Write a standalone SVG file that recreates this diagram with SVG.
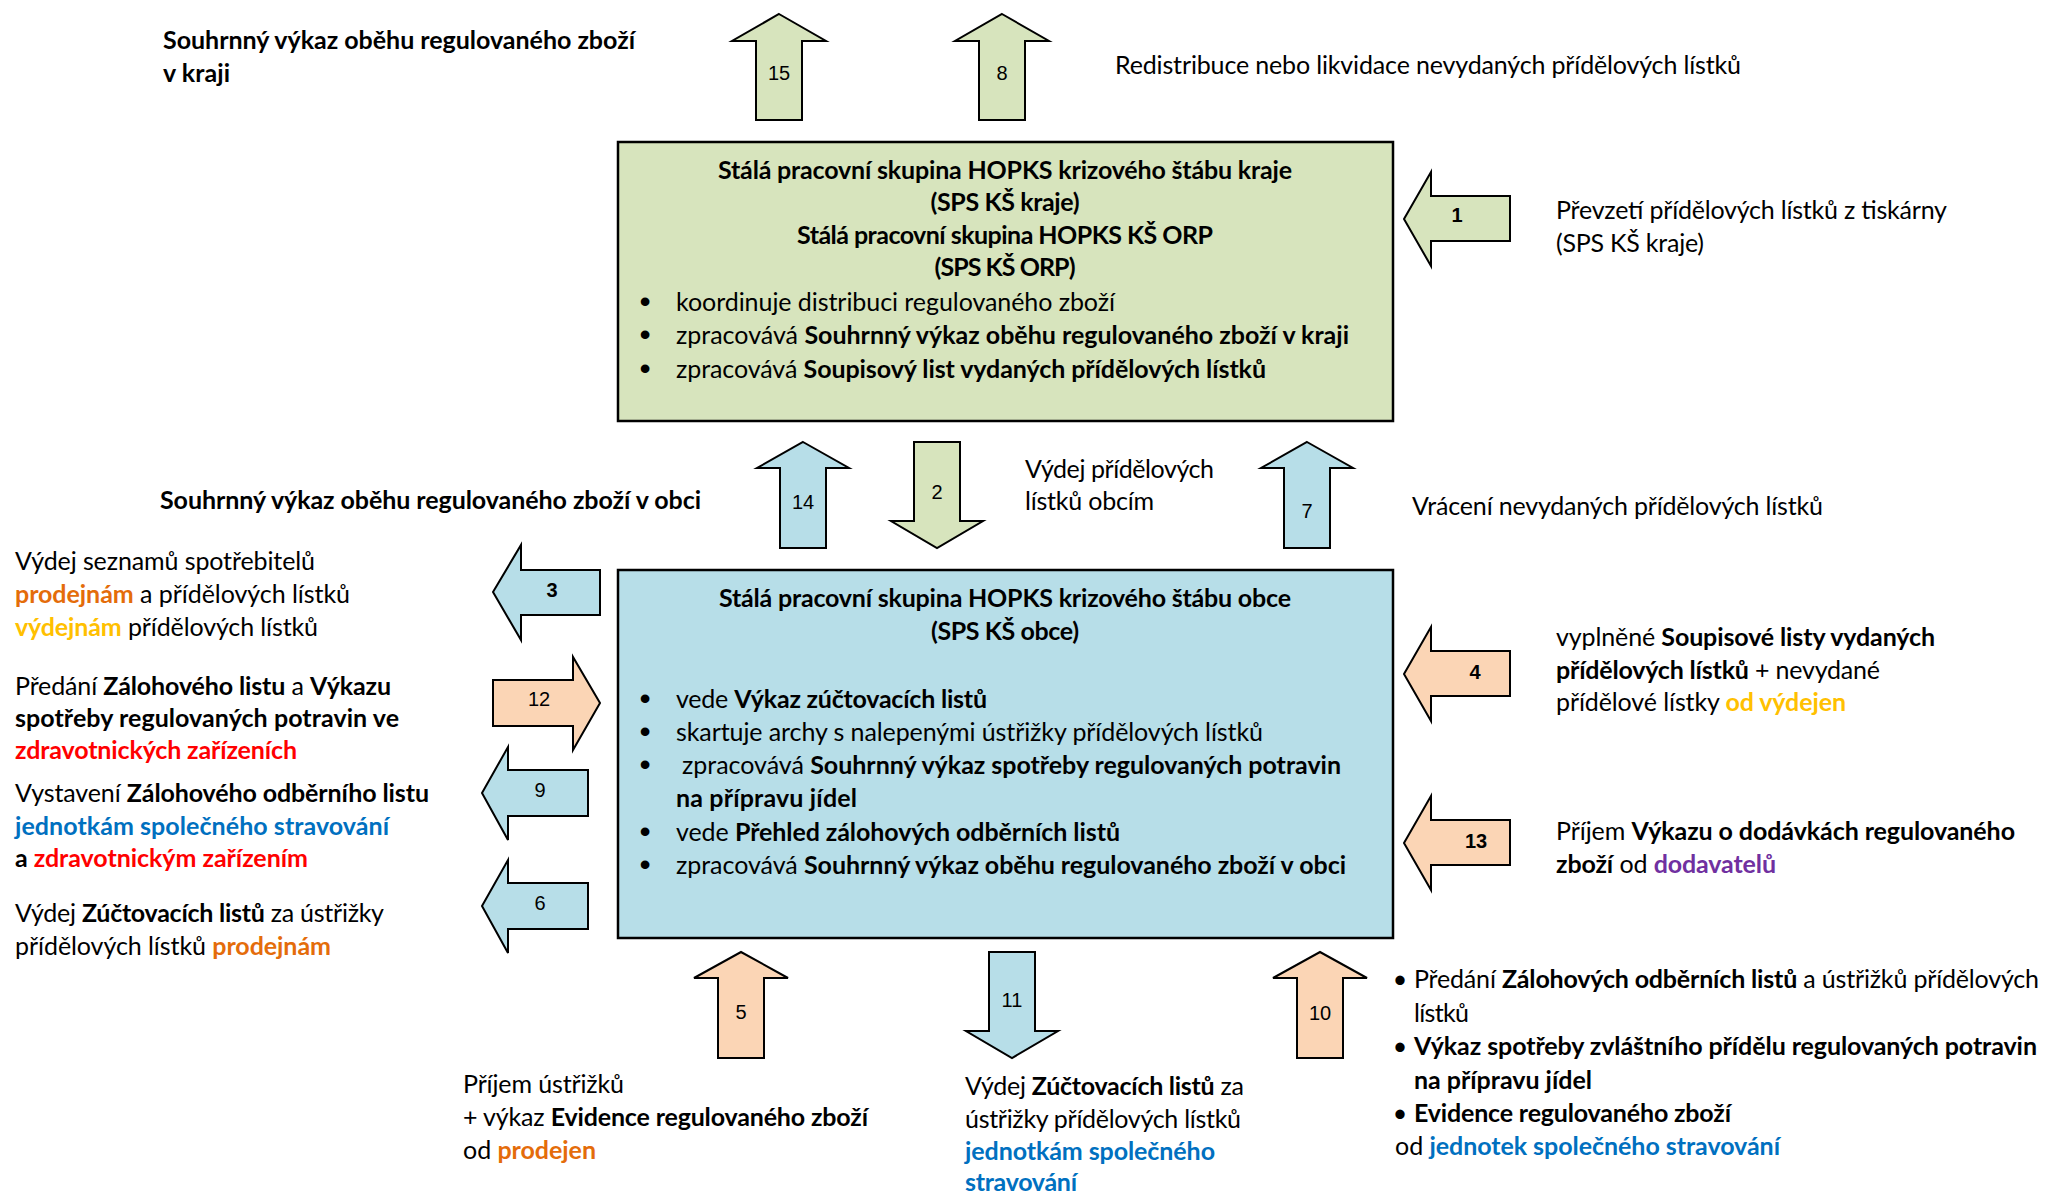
<svg xmlns="http://www.w3.org/2000/svg" width="2045" height="1192" viewBox="0 0 2045 1192">
<style>
.t{font-family:Lato,"Noto Sans",sans-serif;font-size:25px;fill:#000}
.b{font-weight:700}
.c{text-anchor:middle}
.or{fill:#E46C0A}.go{fill:#FFC000}.rd{fill:#FF0000}.bl{fill:#0070C0}.pu{fill:#7030A0}
.n{font-family:"Liberation Sans",Arial,sans-serif;font-size:20px;text-anchor:middle;fill:#000}
.nb{font-weight:700}
.ag{fill:#D7E4BD;stroke:#000;stroke-width:2;stroke-linejoin:miter}
.ab{fill:#B7DEE8;stroke:#000;stroke-width:2;stroke-linejoin:miter}
.ap{fill:#FBD5B5;stroke:#000;stroke-width:2;stroke-linejoin:miter}
.box{stroke:#000;stroke-width:2.5}
.dot{font-family:"Liberation Sans",Arial,sans-serif;font-size:32px;text-anchor:middle}
</style>
<rect width="2045" height="1192" fill="#fff"/>

<g id="kraj">
<rect class="box" x="618" y="142" width="775" height="279" fill="#D7E4BD"/>
<text class="t b c" x="1005" y="179" textLength="574">Stálá pracovní skupina HOPKS krizového štábu kraje</text>
<text class="t b c" x="1005" y="211" textLength="149">(SPS KŠ kraje)</text>
<text class="t b c" x="1005" y="244" textLength="416">Stálá pracovní skupina HOPKS KŠ ORP</text>
<text class="t b c" x="1005" y="276" textLength="141">(SPS KŠ ORP)</text>
<text class="t dot" x="645" y="312">•</text>
<text class="t dot" x="645" y="345">•</text>
<text class="t dot" x="645" y="379">•</text>
<text class="t" x="676" y="311" textLength="439">koordinuje distribuci regulovaného zboží</text>
<text class="t" x="676" y="344" textLength="673">zpracovává <tspan class="b">Souhrnný výkaz oběhu regulovaného zboží v kraji</tspan></text>
<text class="t" x="676" y="378" textLength="590">zpracovává <tspan class="b">Soupisový list vydaných přídělových lístků</tspan></text>
</g>

<g id="obce">
<rect class="box" x="618" y="570" width="775" height="368" fill="#B7DEE8"/>
<text class="t b c" x="1005" y="607" textLength="572">Stálá pracovní skupina HOPKS krizového štábu obce</text>
<text class="t b c" x="1005" y="640" textLength="148">(SPS KŠ obce)</text>
<text class="t dot" x="645" y="709">•</text>
<text class="t dot" x="645" y="742">•</text>
<text class="t dot" x="645" y="775">•</text>
<text class="t dot" x="645" y="842">•</text>
<text class="t dot" x="645" y="875">•</text>
<text class="t" x="676" y="708" textLength="311">vede <tspan class="b">Výkaz zúčtovacích listů</tspan></text>
<text class="t" x="676" y="741" textLength="587">skartuje archy s nalepenými ústřižky přídělových lístků</text>
<text class="t" x="682" y="774" textLength="659">zpracovává <tspan class="b">Souhrnný výkaz spotřeby regulovaných potravin</tspan></text>
<text class="t b" x="676" y="807" textLength="181">na přípravu jídel</text>
<text class="t" x="676" y="841" textLength="444">vede <tspan class="b">Přehled zálohových odběrních listů</tspan></text>
<text class="t" x="676" y="874" textLength="670">zpracovává <tspan class="b">Souhrnný výkaz oběhu regulovaného zboží v obci</tspan></text>
</g>

<g id="connectors">
<g id="a15"><path class="ag" d="M779,14 L826,41 L802,41 L802,120 L756,120 L756,41 L732,41 Z"/><text class="n" x="779" y="80">15</text></g>
<g id="a8"><path class="ag" d="M1002,14 L1049,41 L1025,41 L1025,120 L979,120 L979,41 L955,41 Z"/><text class="n" x="1002" y="80">8</text></g>
<g id="a1"><path class="ag" d="M1404,219 L1431,172 L1431,196 L1510,196 L1510,241 L1431,241 L1431,266 Z"/><text class="n nb" x="1457" y="222">1</text></g>
<g id="a14"><path class="ab" d="M803,442 L849,468 L826,468 L826,548 L780,548 L780,468 L757,468 Z"/><text class="n" x="803" y="509">14</text></g>
<g id="a2"><path class="ag" d="M914,442 L960,442 L960,521 L983,521 L937,548 L891,521 L914,521 Z"/><text class="n" x="937" y="499">2</text></g>
<g id="a7"><path class="ab" d="M1307,442 L1353,468 L1330,468 L1330,548 L1284,548 L1284,468 L1261,468 Z"/><text class="n" x="1307" y="518">7</text></g>
<g id="a3"><path class="ab" d="M493,592 L521,545 L521,570 L600,570 L600,615 L521,615 L521,640 Z"/><text class="n nb" x="552" y="597">3</text></g>
<g id="a12"><path class="ap" d="M493,680 L573,680 L573,657 L600,703 L573,750 L573,726 L493,726 Z"/><text class="n" x="539" y="706">12</text></g>
<g id="a9"><path class="ab" d="M482,793 L508,747 L508,770 L588,770 L588,816 L508,816 L508,840 Z"/><text class="n" x="540" y="797">9</text></g>
<g id="a6"><path class="ab" d="M482,906 L508,860 L508,883 L588,883 L588,929 L508,929 L508,953 Z"/><text class="n" x="540" y="910">6</text></g>
<g id="a4"><path class="ap" d="M1404,674 L1431,627 L1431,651 L1510,651 L1510,696 L1431,696 L1431,721 Z"/><text class="n nb" x="1475" y="679">4</text></g>
<g id="a13"><path class="ap" d="M1404,843 L1431,796 L1431,820 L1510,820 L1510,865 L1431,865 L1431,890 Z"/><text class="n nb" x="1476" y="848">13</text></g>
<g id="a5"><path class="ap" d="M741,952 L788,978 L764,978 L764,1058 L718,1058 L718,978 L694,978 Z"/><text class="n" x="741" y="1019">5</text></g>
<g id="a11"><path class="ab" d="M989,952 L1035,952 L1035,1031 L1058,1031 L1012,1058 L966,1031 L989,1031 Z"/><text class="n" x="1012" y="1007">11</text></g>
<g id="a10"><path class="ap" d="M1320,952 L1367,978 L1343,978 L1343,1058 L1297,1058 L1297,978 L1273,978 Z"/><text class="n" x="1320" y="1020">10</text></g>
</g>

<g id="lbl-top-left">
<text class="t b" x="163" y="49" textLength="472">Souhrnný výkaz oběhu regulovaného zboží</text>
<text class="t b" x="163" y="82" textLength="67">v kraji</text>
</g>
<g id="lbl-top-right">
<text class="t" x="1115" y="74" textLength="626">Redistribuce nebo likvidace nevydaných přídělových lístků</text>
</g>
<g id="lbl-1">
<text class="t" x="1556" y="219" textLength="391">Převzetí přídělových lístků z tiskárny</text>
<text class="t" x="1556" y="252" textLength="148">(SPS KŠ kraje)</text>
</g>
<g id="lbl-14">
<text class="t b" x="160" y="509" textLength="541">Souhrnný výkaz oběhu regulovaného zboží v obci</text>
</g>
<g id="lbl-2">
<text class="t" x="1025" y="478" textLength="189">Výdej přídělových</text>
<text class="t" x="1025" y="510" textLength="129">lístků obcím</text>
</g>
<g id="lbl-7">
<text class="t" x="1412" y="515" textLength="411">Vrácení nevydaných přídělových lístků</text>
</g>
<g id="lbl-3">
<text class="t" x="15" y="570" textLength="300">Výdej seznamů spotřebitelů</text>
<text class="t" x="15" y="603" textLength="335"><tspan class="b or">prodejnám</tspan> a přídělových lístků</text>
<text class="t" x="15" y="636" textLength="303"><tspan class="b go">výdejnám</tspan> přídělových lístků</text>
</g>
<g id="lbl-12">
<text class="t" x="15" y="695" textLength="376">Předání <tspan class="b">Zálohového listu</tspan> a <tspan class="b">Výkazu</tspan></text>
<text class="t b" x="15" y="727" textLength="384">spotřeby regulovaných potravin ve</text>
<text class="t b rd" x="15" y="759" textLength="282">zdravotnických zařízeních</text>
</g>
<g id="lbl-9">
<text class="t" x="15" y="802" textLength="414">Vystavení <tspan class="b">Zálohového odběrního listu</tspan></text>
<text class="t b bl" x="15" y="835" textLength="374">jednotkám společného stravování</text>
<text class="t b" x="15" y="867" textLength="293">a <tspan class="rd">zdravotnickým zařízením</tspan></text>
</g>
<g id="lbl-6">
<text class="t" x="15" y="922" textLength="369">Výdej <tspan class="b">Zúčtovacích listů</tspan> za ústřižky</text>
<text class="t" x="15" y="955" textLength="316">přídělových lístků <tspan class="b or">prodejnám</tspan></text>
</g>
<g id="lbl-4">
<text class="t" x="1556" y="646" textLength="379">vyplněné <tspan class="b">Soupisové listy vydaných</tspan></text>
<text class="t" x="1556" y="679" textLength="324"><tspan class="b">přídělových lístků</tspan> + nevydané</text>
<text class="t" x="1556" y="711" textLength="290">přídělové lístky <tspan class="b go">od výdejen</tspan></text>
</g>
<g id="lbl-13">
<text class="t" x="1556" y="840" textLength="459">Příjem <tspan class="b">Výkazu o dodávkách regulovaného</tspan></text>
<text class="t" x="1556" y="873" textLength="220"><tspan class="b">zboží</tspan> od <tspan class="b pu">dodavatelů</tspan></text>
</g>
<g id="lbl-5">
<text class="t" x="463" y="1093" textLength="161">Příjem ústřižků</text>
<text class="t" x="463" y="1126" textLength="405">+ výkaz <tspan class="b">Evidence regulovaného zboží</tspan></text>
<text class="t" x="463" y="1159" textLength="133">od <tspan class="b or">prodejen</tspan></text>
</g>
<g id="lbl-11">
<text class="t" x="965" y="1095" textLength="279">Výdej <tspan class="b">Zúčtovacích listů</tspan> za</text>
<text class="t" x="965" y="1128" textLength="276">ústřižky přídělových lístků</text>
<text class="t b bl" x="965" y="1160" textLength="250">jednotkám společného</text>
<text class="t b bl" x="965" y="1191" textLength="112">stravování</text>
</g>
<g id="lbl-10">
<text class="t" x="1400" y="988" text-anchor="middle">•</text>
<text class="t" x="1414" y="988" textLength="625">Předání <tspan class="b">Zálohových odběrních listů</tspan> a ústřižků přídělových</text>
<text class="t" x="1414" y="1022" textLength="55">lístků</text>
<text class="t" x="1400" y="1055" text-anchor="middle">•</text>
<text class="t b" x="1414" y="1055" textLength="623">Výkaz spotřeby zvláštního přídělu regulovaných potravin</text>
<text class="t b" x="1414" y="1089" textLength="178">na přípravu jídel</text>
<text class="t" x="1400" y="1122" text-anchor="middle">•</text>
<text class="t b" x="1414" y="1122" textLength="317">Evidence regulovaného zboží</text>
<text class="t" x="1395" y="1155" textLength="385">od <tspan class="b bl">jednotek společného stravování</tspan></text>
</g>
</svg>
